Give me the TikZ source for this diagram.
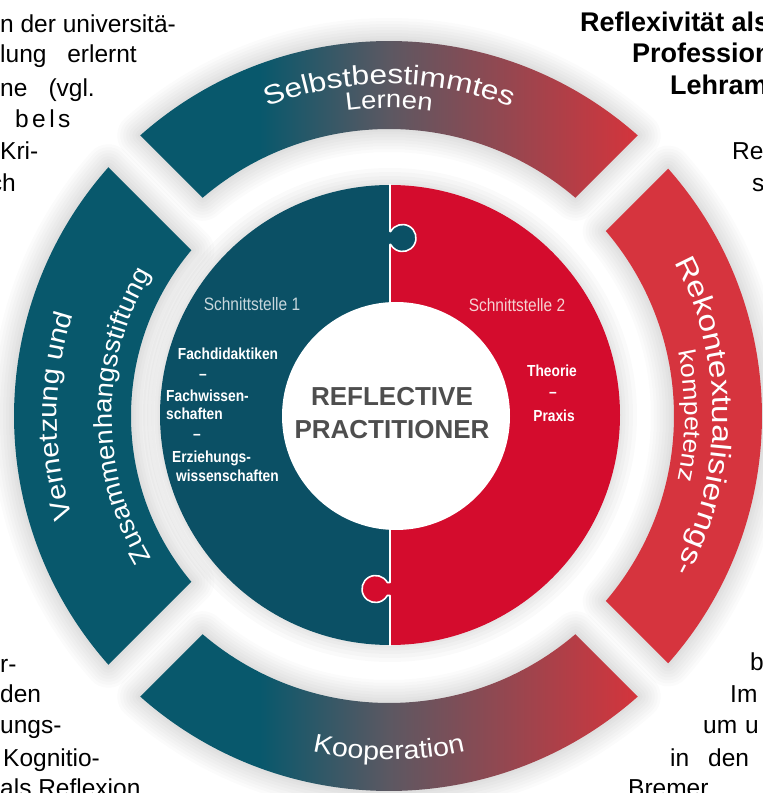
\documentclass[tikz,border=0pt]{standalone}
\usepackage{fontspec}
\setmainfont{Liberation Sans}
\newfontfamily\ringA[FakeStretch=1.05]{Liberation Sans}
\newfontfamily\ringB[FakeStretch=1.1]{Liberation Sans}
\newfontfamily\ringC[FakeStretch=1.17]{Liberation Sans}
\newfontfamily\condfont[FakeStretch=0.86]{Liberation Sans}
\newfontfamily\condboldfont[FakeStretch=0.86]{Liberation Sans Bold}
\newfontfamily\spacedfont[LetterSpace=14]{Liberation Sans}
\usetikzlibrary{decorations.text}
\definecolor{ringteal}{RGB}{8,88,108}
\definecolor{ringred}{RGB}{214,52,62}
\definecolor{gradmid}{RGB}{92,88,98}
\definecolor{gradred}{RGB}{212,52,60}
\definecolor{diskteal}{RGB}{11,80,101}
\definecolor{diskred}{RGB}{212,12,45}
\definecolor{labelgray}{RGB}{78,78,78}
\definecolor{sst1}{RGB}{200,215,220}
\definecolor{sst2}{RGB}{245,210,210}
\pgfdeclarehorizontalshading{ringgrad}{100bp}{color(0bp)=(ringteal); color(37bp)=(ringteal); color(50bp)=(gradmid); color(75bp)=(gradred); color(100bp)=(gradred)}
\def\gp{22.5}
\newcommand{\segpath}[4]{({#1+asin(\gp/#4)}:#4) arc[start angle={#1+asin(\gp/#4)}, end angle={#2-asin(\gp/#4)}, radius=#4pt] -- ({#2-asin(\gp/#3)}:#3) arc[start angle={#2-asin(\gp/#3)}, end angle={#1+asin(\gp/#3)}, radius=#3pt] -- cycle}
\newcommand{\segshadow}[4]{\foreach \ww in {46,40,34,28,22,16,10,5}{\draw[line width=\ww pt, black, opacity=0.016, line join=round] \segpath{#1}{#2}{#3}{#4};}}
\tikzset{
  bodytxt/.style={inner sep=0pt, anchor=base west, font=\fontsize{24.5}{24.5}\selectfont},
  headtxt/.style={bodytxt, font=\fontsize{27}{27}\selectfont\bfseries},
  sstxt/.style={inner sep=0pt, anchor=base, font=\condfont\fontsize{18}{18}\selectfont},
  fachtxt/.style={inner sep=0pt, anchor=base west, text=white, font=\condboldfont\fontsize{16}{16}\selectfont},
  centertxt/.style={inner sep=0pt, anchor=base, text=labelgray, font=\bfseries\fontsize{26}{26}\selectfont},
  ringlabel/.style n args={3}{decorate, decoration={text along path, text align=center, text color=white, text={|#2\fontsize{#3}{#3}\selectfont|#1}}}
}
\begin{document}
\begin{tikzpicture}[x=1pt,y=1pt]
\useasboundingbox (0,0) rectangle (763,793);
\fill[white] (0,0) rectangle (763,793);

% soft shadows
\begin{scope}[shift={(389,377)}]
\segshadow{45}{135}{287}{375}
\segshadow{135}{225}{258}{375}
\segshadow{225}{315}{287}{375}
\segshadow{-45}{45}{285}{373}
\foreach \ww in {34,26,18,11,5}{\draw[line width=\ww pt, black, opacity=0.018] (1,1) circle[radius=230pt];}
\end{scope}

% background page text
\node[bodytxt] (tl1) at (0,760) {n der universitä-};
\node[bodytxt] (tl2a) at (0,730) {lung};
\node[bodytxt, anchor=base east] (tl2b) at (137,730) {erlernt};
\node[bodytxt] (tl3a) at (0,696) {ne};
\node[bodytxt, anchor=base east] (tl3b) at (95,696) {(vgl.};
\node[bodytxt, font=\spacedfont\fontsize{24.5}{24.5}\selectfont] (tl4) at (15,665) {bels};
\node[bodytxt] (tl5) at (0,633) {Kri-};
\node[bodytxt, anchor=base east] (tl6) at (16,601) {ch};

\node[headtxt] (tr1) at (580,761) {Reflexivität als};
\node[headtxt] (tr2) at (632,730) {Profession};
\node[headtxt] (tr3) at (670,698) {Lehramt};
\node[bodytxt] (tr4) at (732,633) {Re};
\node[bodytxt] (tr5) at (752,601) {s};

\node[bodytxt] (bl1) at (0,120) {r-};
\node[bodytxt] (bl2) at (0,90) {den};
\node[bodytxt] (bl3) at (0,59) {ungs-};
\node[bodytxt] (bl4) at (3,27) {Kognitio-};
\node[bodytxt] (bl5) at (0,-4) {als Reflexion};

\node[bodytxt] (br1) at (750,122) {b};
\node[bodytxt] (br2) at (730,90) {Im};
\node[bodytxt] (br3) at (703,59) {um};
\node[bodytxt] (br3b) at (745,59) {u};
\node[bodytxt] (br4) at (670,27) {in};
\node[bodytxt] (br4b) at (708,27) {den};
\node[bodytxt] (br5) at (628,-4) {Bremer};

% outer ring
\begin{scope}[shift={(389,377)}]
\shade[shading=ringgrad] \segpath{45}{135}{287}{375};
\fill[ringteal] \segpath{135}{225}{258}{375};
\shade[shading=ringgrad] \segpath{225}{315}{287}{375};
\fill[ringred] \segpath{-45}{45}{285}{373};

\path[ringlabel={Selbstbestimmtes}{\ringC}{27}] (135:332) arc[start angle=135, end angle=45, radius=332pt];
\path[ringlabel={Lernen}{\ringB}{25}] (135:308) arc[start angle=135, end angle=45, radius=308pt];
\path[ringlabel={Kooperation}{\ringB}{26}] (225:344) arc[start angle=225, end angle=315, radius=344pt];
\path[ringlabel={Vernetzung und}{\ringB}{26.5}] (225:332) arc[start angle=225, end angle=135, radius=332pt];
\path[ringlabel={Zusammenhangsstiftung}{\ringA}{26}] (225:277) arc[start angle=225, end angle=135, radius=277pt];
\path[ringlabel={Rekontextualisierngs-}{\ringC}{28.5}] (45:324) arc[start angle=45, end angle=-45, radius=324pt];
\path[ringlabel={kompetenz}{\ringB}{24}] (45:296) arc[start angle=45, end angle=-45, radius=296pt];
\end{scope}

% inner disk
\begin{scope}[shift={(390,378)}]
\fill[diskteal] (0,230) arc[start angle=90, end angle=270, radius=230pt] -- cycle;
\fill[diskred] (0,-230) arc[start angle=-90, end angle=90, radius=230pt] -- cycle;
\fill[diskteal] (-0.5,170.5) rectangle (4,183.5);
\fill[diskteal] (12.5,177) circle[radius=13.5pt];
\fill[diskred] (-4,-180.5) rectangle (0.5,-167.5);
\fill[diskred] (-14.5,-174) circle[radius=13.5pt];
\draw[white, line width=1.6pt, line join=round] (0,231) -- (0,183.5) -- (0.67,183.5) arc[start angle=151.2, end angle=-151.2, radius=13.5pt] -- (0,170.5) -- (0,-167.5) -- (-2.67,-167.5) arc[start angle=28.8, end angle=331.2, radius=13.5pt] -- (0,-180.5) -- (0,-231);
\fill[white] (6,-1) circle[radius=114pt];
\end{scope}

% disk texts
\node[sstxt, text=sst1] (s1) at (252,482) {Schnittstelle 1};
\node[fachtxt, anchor=base] (f1) at (228,433) {Fachdidaktiken};
\node[fachtxt, anchor=center] (d1) at (203,416) {–};
\node[fachtxt] (f2) at (166,391) {Fachwissen-};
\node[fachtxt] (f3) at (166,373) {schaften};
\node[fachtxt, anchor=center] (d2) at (197,356) {–};
\node[fachtxt] (f4) at (172,330) {Erziehungs-};
\node[fachtxt] (f5) at (176,311) {wissenschaften};

\node[sstxt, text=sst2] (s2) at (517,481) {Schnittstelle 2};
\node[fachtxt, anchor=base] (t1) at (552,416) {Theorie};
\node[fachtxt, anchor=center] (d3) at (553,398) {–};
\node[fachtxt, anchor=base] (t2) at (554,371) {Praxis};

\node[centertxt] (rp1) at (392,387) {REFLECTIVE};
\node[centertxt] (rp2) at (392,354) {PRACTITIONER};
\end{tikzpicture}
\end{document}
